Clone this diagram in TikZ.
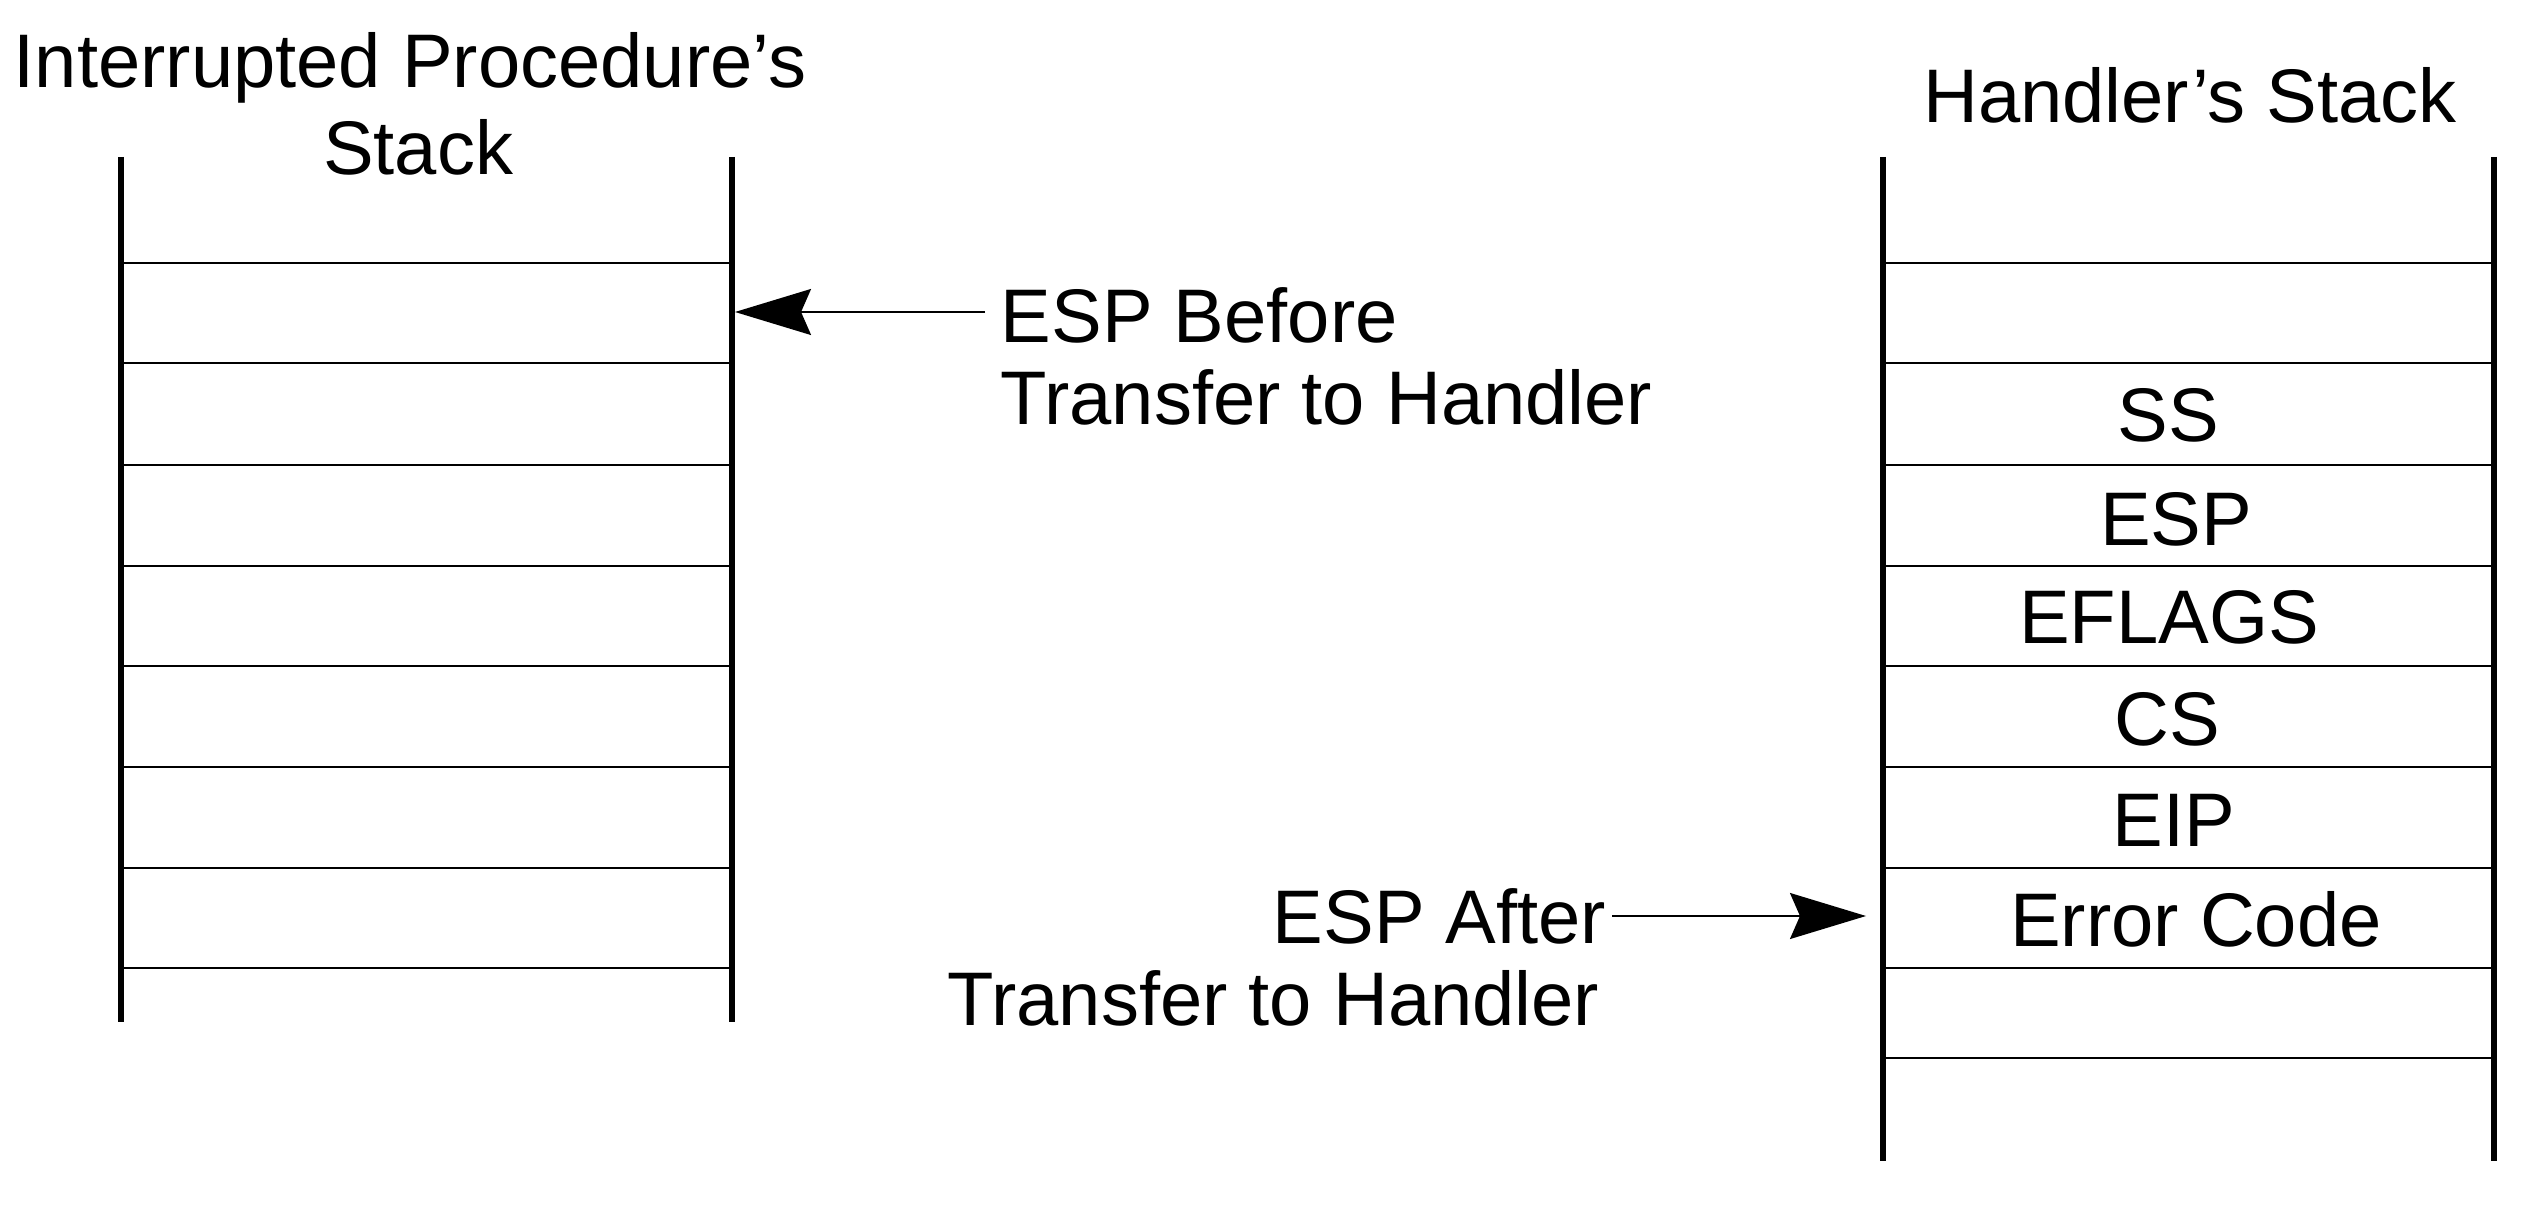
\documentclass[tikz,border=0pt]{standalone}
\usepackage{fontspec}
\setmainfont{Liberation Sans}
\usetikzlibrary{arrows.meta}
\begin{document}
\begin{tikzpicture}[x=0.01cm,y=-0.01cm,
  lbl/.style={inner sep=0pt,anchor=base,font=\fontsize{21.6pt}{24.75pt}\selectfont},
  side/.style={line width=1.55pt,line cap=butt},
  row/.style={line width=0.65pt},
  arr/.style={line width=0.5pt,-{Stealth[length=0.76cm,width=0.46cm,inset=0.1cm]}}]
\useasboundingbox (0,0) rectangle (2534,1216);
% left stack
\draw[side] (121,157) -- (121,1022);
\draw[side] (732,157) -- (732,1022);
\foreach \y in {263,363,465,566,666,767,868,968}
  \draw[row] (121,\y) -- (732,\y);
% right stack
\draw[side] (1883,157) -- (1883,1161);
\draw[side] (2494,157) -- (2494,1161);
\foreach \y in {263,363,465,566,666,767,868,968,1058}
  \draw[row] (1883,\y) -- (2494,\y);
% titles
\node[lbl] (t1) at (410,88) {Interrupted Procedure’s};
\node[lbl] (t2) at (418,175) {Stack};
\node[lbl] (t3) at (2190,123) {Handler’s Stack};
% right stack contents
\node[lbl] (ss) at (2168,442) {SS};
\node[lbl] (esp) at (2176,546) {ESP};
\node[lbl] (efl) at (2169,643) {EFLAGS};
\node[lbl] (cs) at (2167,745) {CS};
\node[lbl] (eip) at (2174,846) {EIP};
\node[lbl] (err) at (2196,946) {Error Code};
% labels
\node[lbl,anchor=base west] (b1) at (1000,343) {ESP Before};
\node[lbl,anchor=base west] (b2) at (1000,425) {Transfer to Handler};
\node[lbl,anchor=base east] (a1) at (1607,943) {ESP After};
\node[lbl,anchor=base east] (a2) at (1600,1025) {Transfer to Handler};
% arrows
\coordinate (tipA) at (735,312);
\coordinate (tipB) at (1866,916);
\draw[arr] (b1.west |- tipA) ++(-15,0) -- (tipA);
\draw[arr] (a1.east |- tipB) ++(5,0) -- (tipB);
\end{tikzpicture}
\end{document}
